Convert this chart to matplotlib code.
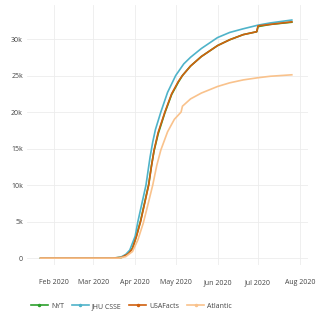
import matplotlib
matplotlib.use('Agg')
import matplotlib.pyplot as plt
import matplotlib.dates as mdates
import matplotlib.ticker as mticker
from matplotlib.lines import Line2D
import pandas as pd

plt.rcParams['font.family'] = ['Open Sans', 'DejaVu Sans']

# 数据（累计值，读图估计）
nyt_dates = ['2020-01-22', '2020-03-15', '2020-03-22', '2020-03-27', '2020-03-30', '2020-04-02',
             '2020-04-05', '2020-04-08', '2020-04-11', '2020-04-13', '2020-04-15', '2020-04-18',
             '2020-04-23', '2020-04-28', '2020-05-03', '2020-05-06', '2020-05-12', '2020-05-20',
             '2020-06-01', '2020-06-10', '2020-06-20', '2020-06-30', '2020-07-01', '2020-07-10',
             '2020-07-26']
nyt_vals = [0, 0, 100, 650, 1350, 3100, 5100, 7600, 10100, 12600, 14700, 17000,
            19900, 22400, 24100, 25000, 26300, 27600, 29100, 29900, 30600, 31000, 31700, 32000, 32300]

jhu_dates = ['2020-01-22', '2020-03-15', '2020-03-21', '2020-03-25', '2020-03-28', '2020-04-01',
             '2020-04-03', '2020-04-06', '2020-04-09', '2020-04-12', '2020-04-14', '2020-04-16',
             '2020-04-20', '2020-04-25', '2020-05-01', '2020-05-07', '2020-05-12', '2020-05-20',
             '2020-06-01', '2020-06-10', '2020-06-20', '2020-07-01', '2020-07-10', '2020-07-26']
jhu_vals = [0, 0, 100, 500, 1100, 3000, 5000, 7500, 10000, 13800, 15900, 17600,
            20000, 22700, 25000, 26600, 27500, 28700, 30200, 30900, 31400, 31900, 32200, 32600]

usaf_dates = nyt_dates
usaf_vals = [0, 0, 100, 600, 1300, 3000, 5000, 7500, 10000, 12500, 14800, 17200,
             20000, 22500, 24200, 25000, 26300, 27600, 29100, 29900, 30600, 31000, 31800, 32000, 32350]

atl_dates = ['2020-01-22', '2020-03-20', '2020-03-25', '2020-03-30', '2020-04-03', '2020-04-07',
             '2020-04-10', '2020-04-14', '2020-04-17', '2020-04-20', '2020-04-25', '2020-04-30',
             '2020-05-05', '2020-05-06', '2020-05-12', '2020-05-20', '2020-06-01', '2020-06-10',
             '2020-06-20', '2020-07-01', '2020-07-10', '2020-07-26']
atl_vals = [0, 0, 200, 900, 2500, 4800, 7000, 10000, 12700, 14800, 17300, 19000,
            20000, 20800, 21800, 22600, 23500, 24000, 24400, 24700, 24900, 25100]

series = [
    ('NYT', nyt_dates, nyt_vals, '#2ca02c'),
    ('JHU CSSE', jhu_dates, jhu_vals, '#4fb3c9'),
    ('USAFacts', usaf_dates, usaf_vals, '#d0600e'),
    ('Atlantic', atl_dates, atl_vals, '#f9c28c'),
]

fig = plt.figure(figsize=(3.27, 3.16), dpi=100)
ax = fig.add_axes([0.083, 0.161, 0.859, 0.823])

handles = []
for name, d, v, c in series:
    ax.plot(pd.to_datetime(d), v, color=c, lw=1.2)
    handles.append(Line2D([], [], color=c, lw=1.2, marker='o', ms=1.5, markevery=[1]))

ax.set_xlim(pd.Timestamp('2020-01-12'), pd.Timestamp('2020-08-07'))
ax.set_ylim(-960, 34650)
ax.xaxis.set_major_locator(mdates.MonthLocator(bymonth=range(2, 9)))
ax.xaxis.set_major_formatter(mdates.DateFormatter('%b %Y'))
ax.yaxis.set_major_locator(mticker.MultipleLocator(5000))
ax.yaxis.set_major_formatter(mticker.FuncFormatter(lambda x, p: '0' if x == 0 else '%dk' % (x / 1000)))

# 网格与外观
ax.grid(True, color='#ececec', lw=0.6)
ax.set_axisbelow(True)
for s in ax.spines.values():
    s.set_visible(False)
ax.tick_params(length=0, labelsize=5, colors='#444444', pad=3)
ax.tick_params(axis='x', pad=10)

fig.legend(handles, [s[0] for s in series], loc='lower left', bbox_to_anchor=(0.075, 0.0),
           ncol=4, frameon=False, fontsize=5, handlelength=2.5, handletextpad=0.4,
           columnspacing=1.1, labelcolor='#444444')

plt.savefig('out.png', dpi=100)
